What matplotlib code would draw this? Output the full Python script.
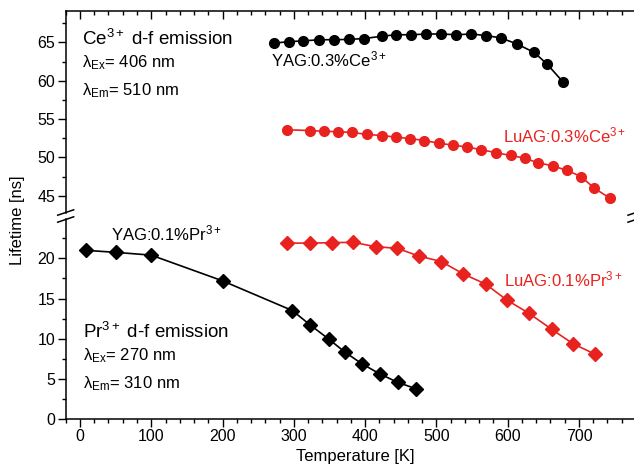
import matplotlib.pyplot as plt
from matplotlib.ticker import MultipleLocator
from matplotlib.lines import Line2D

plt.rcParams['font.family'] = ['Liberation Sans', 'DejaVu Sans']
plt.rcParams['mathtext.fontset'] = 'custom'
plt.rcParams['mathtext.rm'] = 'Liberation Sans'
plt.rcParams['mathtext.it'] = 'Liberation Sans:italic'
plt.rcParams['mathtext.bf'] = 'Liberation Sans:bold'

# YAG:0.3%Ce3+ (upper part)
yag_ce_T = [272, 293, 313, 336, 356, 378, 398, 423, 443, 465, 486, 507, 528, 549, 569, 590, 613, 637, 655, 677]
yag_ce_tau = [64.9, 65.1, 65.2, 65.35, 65.35, 65.4, 65.5, 65.8, 66.0, 66.0, 66.1, 66.1, 66.0, 66.1, 65.9, 65.6, 64.8, 63.7, 62.2, 59.9]

# LuAG:0.3%Ce3+ (upper part)
luag_ce_T = [291, 323, 342, 362, 382, 402, 423, 443, 463, 483, 503, 523, 543, 563, 584, 604, 624, 642, 663, 683, 703, 721, 743]
luag_ce_tau = [53.6, 53.5, 53.4, 53.35, 53.25, 53.0, 52.85, 52.65, 52.45, 52.2, 51.85, 51.6, 51.35, 51.0,
               50.6, 50.25, 49.9, 49.3, 48.9, 48.3, 47.5, 46.0, 44.7]

# YAG:0.1%Pr3+ (lower part)
yag_pr_T = [8, 50, 100, 200, 298, 323, 349, 372, 396, 421, 446, 472]
yag_pr_tau = [21.0, 20.75, 20.4, 17.2, 13.5, 11.7, 9.95, 8.3, 6.85, 5.6, 4.55, 3.75]

# LuAG:0.1%Pr3+ (lower part)
luag_pr_T = [290, 323, 353, 383, 415, 445, 475, 507, 538, 569, 599, 630, 662, 692, 722]
luag_pr_tau = [21.9, 21.9, 21.95, 22.0, 21.45, 21.25, 20.3, 19.6, 18.05, 16.8, 14.8, 13.15, 11.15, 9.35, 8.1]

RED = '#e8231f'
W, H = 634, 466

fig = plt.figure(figsize=(W / 100, H / 100), dpi=100)


def box(l, t, r, b):
    return [l / W, 1 - b / H, (r - l) / W, (b - t) / H]


ax_hi = fig.add_axes(box(65.7, 11, 636, 213))
ax_lo = fig.add_axes(box(65.7, 219, 636, 419))

ax_hi.plot(yag_ce_T, yag_ce_tau, '-o', color='k', ms=7, lw=1.2)
ax_hi.plot(luag_ce_T, luag_ce_tau, '-o', color=RED, ms=7, lw=1.2)
ax_lo.plot(yag_pr_T, yag_pr_tau, '-D', color='k', ms=7.5, lw=1.2)
ax_lo.plot(luag_pr_T, luag_pr_tau, '-D', color=RED, ms=7.5, lw=1.2)

for ax in (ax_hi, ax_lo):
    ax.set_xlim(-20, 780)
    ax.xaxis.set_major_locator(MultipleLocator(100))
    ax.xaxis.set_minor_locator(MultipleLocator(20))
    ax.yaxis.set_major_locator(MultipleLocator(5))
    ax.yaxis.set_minor_locator(MultipleLocator(2.5))
    for s in ax.spines.values():
        s.set_linewidth(1.1)
    ax.tick_params(which='major', length=5.5, width=1.0, labelsize=11.5)
    ax.tick_params(which='minor', length=3, width=1.0)
    ax.tick_params(axis='y', which='both', direction='out', right=False, pad=2)

ax_hi.set_ylim(42.74, 69.1)
ax_lo.set_ylim(0, 24.9)
ax_hi.spines['bottom'].set_visible(False)
ax_lo.spines['top'].set_visible(False)
ax_hi.tick_params(axis='x', which='both', bottom=False, top=True, labelbottom=False, direction='in')
ax_lo.tick_params(axis='x', which='both', top=False, direction='out', pad=2)

# axis break marks
for xs in (65.7, 636):
    for yc in (212.5, 219.5):
        fig.add_artist(Line2D([(xs - 8) / W, (xs + 8) / W],
                              [1 - (yc + 2.7) / H, 1 - (yc - 2.7) / H],
                              transform=fig.transFigure, color='k', lw=1.1))

sup = lambda s: '$\\mathregular{^{' + s + '}}$'
sub = lambda s: '$\\mathregular{_{' + s + '}}$'

ax_hi.text(3, 64.7, 'Ce' + sup('3+') + ' d-f emission', fontsize=13.5)
ax_hi.text(3, 61.73, 'λ' + sub('Ex') + '= 406 nm', fontsize=12)
ax_hi.text(3, 58.07, 'λ' + sub('Em') + '= 510 nm', fontsize=12)
ax_hi.text(267.5, 61.86, 'YAG:0.3%Ce' + sup('3+'), fontsize=12)
ax_hi.text(593.7, 51.93, 'LuAG:0.3%Ce' + sup('3+'), fontsize=12, color=RED)

ax_lo.text(43.5, 22.19, 'YAG:0.1%Pr' + sup('3+'), fontsize=12)
ax_lo.text(594.7, 16.55, 'LuAG:0.1%Pr' + sup('3+'), fontsize=12, color=RED)
ax_lo.text(4.6, 10.04, 'Pr' + sup('3+') + ' d-f emission', fontsize=13.5)
ax_lo.text(4.6, 7.34, 'λ' + sub('Ex') + '= 270 nm', fontsize=12)
ax_lo.text(4.6, 3.82, 'λ' + sub('Em') + '= 310 nm', fontsize=12)

fig.text(355.5 / W, 1 - 457 / H, 'Temperature [K]', fontsize=12, ha='center', va='center')
fig.text(18 / W, 1 - 220 / H, 'Lifetime [ns]', fontsize=12, ha='center', va='center', rotation=90)

fig.savefig('out.png', dpi=100)
